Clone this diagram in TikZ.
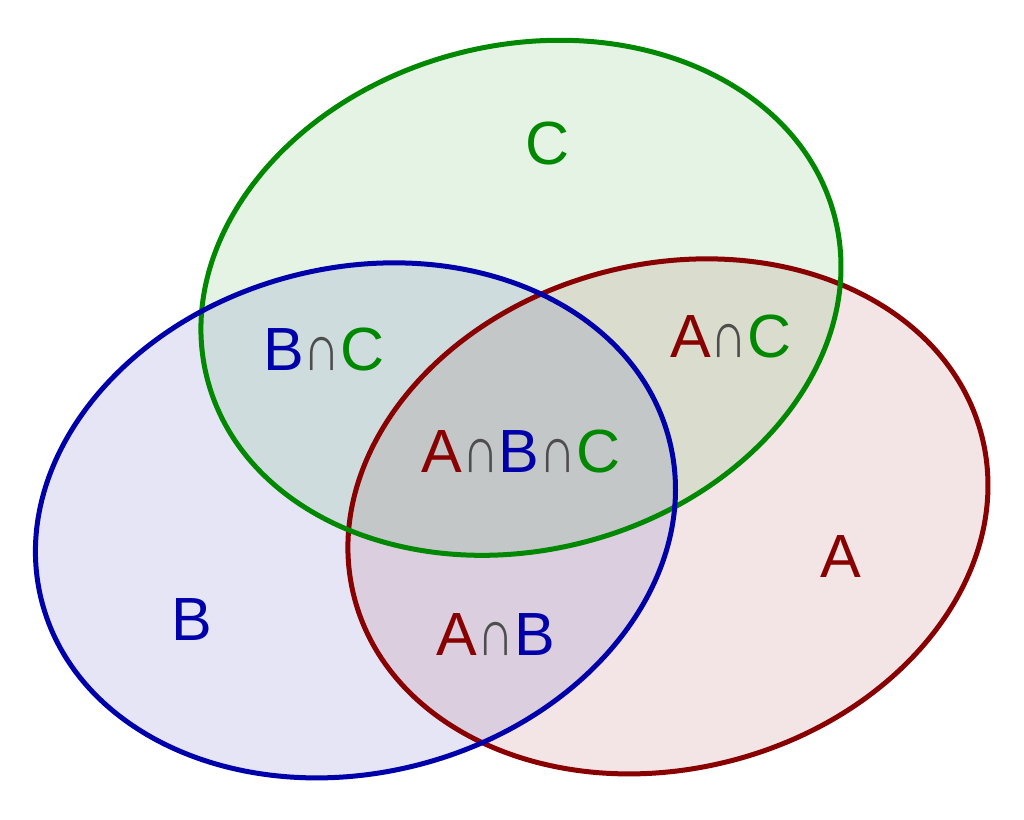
\documentclass[tikz,border=0pt]{standalone}
\usepackage{fontspec}
\usepackage{graphicx}
\setmainfont{Liberation Sans}
\definecolor{setA}{RGB}{136,0,0}
\definecolor{setB}{RGB}{0,0,170}
\definecolor{setC}{RGB}{0,136,0}
\definecolor{capgray}{RGB}{77,77,77}
\tikzset{
  setfill/.style={fill=#1, fill opacity=0.1, draw=none},
  setline/.style={draw=#1, line width=5pt},
  lbl/.style={anchor=base, inner sep=0pt, font=\fontsize{61}{61}\selectfont},
}
\newcommand{\capsym}{\textcolor{capgray}{\scalebox{0.84}[1.08]{∩}}}
\begin{document}
\begin{tikzpicture}[x=1pt,y=-1pt]
\useasboundingbox (0,0) rectangle (1024,819);
\coordinate (cA) at (668,516.4);
\coordinate (cB) at (355.5,520.4);
\coordinate (cC) at (521,297.8);
% fills
\fill[setfill=setA, rotate around={14.5:(cA)}] (cA) ellipse [x radius=324pt, y radius=252.4pt];
\fill[setfill=setB, rotate around={14.5:(cB)}] (cB) ellipse [x radius=324pt, y radius=252.4pt];
\fill[setfill=setC, rotate around={14.5:(cC)}] (cC) ellipse [x radius=324pt, y radius=252.4pt];
% outlines
\draw[setline=setA, rotate around={14.5:(cA)}] (cA) ellipse [x radius=324pt, y radius=252.4pt];
\draw[setline=setC, rotate around={14.5:(cC)}] (cC) ellipse [x radius=324pt, y radius=252.4pt];
\draw[setline=setB, rotate around={14.5:(cB)}] (cB) ellipse [x radius=324pt, y radius=252.4pt];
% labels
\node[lbl, text=setC] (lC) at (548,164) {C};
\node[lbl, text=setA] (lA) at (841,577) {A};
\node[lbl, text=setB] (lB) at (192,640) {B};
\node[lbl] (lBC) at (324,370) {\textcolor{setB}{B}\capsym\textcolor{setC}{C}};
\node[lbl] (lAC) at (731,357) {\textcolor{setA}{A}\capsym\textcolor{setC}{C}};
\node[lbl] (lAB) at (496,655) {\textcolor{setA}{A}\capsym\textcolor{setB}{B}};
\node[lbl] (lABC) at (521,472) {\textcolor{setA}{A}\capsym\textcolor{setB}{B}\capsym\textcolor{setC}{C}};
\end{tikzpicture}
\end{document}
